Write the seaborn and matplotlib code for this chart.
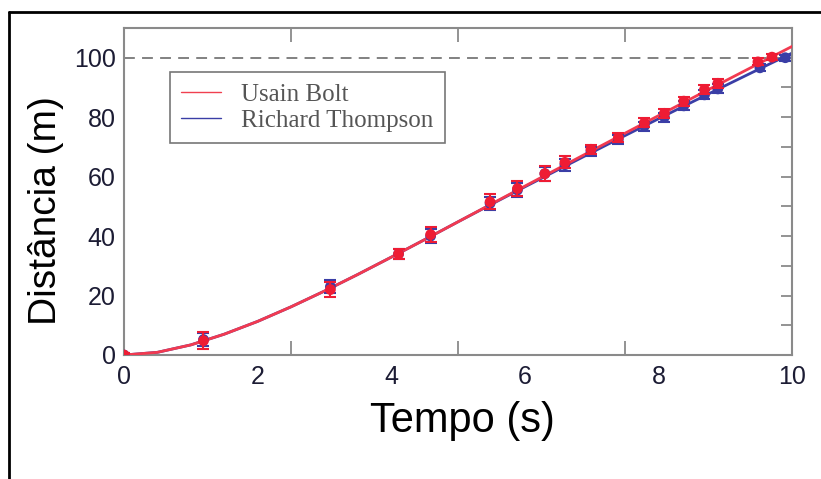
import numpy as np
import matplotlib
matplotlib.use('Agg')
import matplotlib.pyplot as plt
import seaborn as sns
from matplotlib.lines import Line2D

# tempos e distâncias medidos (pontos com barras de erro)
t_bolt = [0, 1.19, 3.09, 4.11, 4.59, 5.48, 5.89, 6.30, 6.60, 6.99, 7.40, 7.79, 8.09, 8.38, 8.69, 8.89, 9.49, 9.70]
d_bolt = [0, 4.8, 22.0, 34.0, 40.5, 51.5, 56.0, 61.0, 64.8, 69.2, 73.1, 78.1, 81.3, 85.4, 89.3, 91.4, 98.6, 100.2]
e_bolt = [0.8, 2.8, 2.5, 1.8, 2.5, 2.5, 2.5, 2.5, 2.0, 1.5, 1.5, 1.5, 1.5, 1.5, 1.5, 1.5, 1.2, 1.0]

t_thomp = [0, 1.19, 3.09, 4.11, 4.59, 5.48, 5.89, 6.30, 6.60, 6.99, 7.40, 7.79, 8.09, 8.38, 8.69, 8.89, 9.52, 9.90]
d_thomp = [0, 5.2, 23.0, 34.0, 40.0, 51.0, 55.5, 61.0, 64.0, 68.5, 72.5, 77.0, 80.0, 83.8, 87.5, 89.5, 96.6, 100.0]
e_thomp = [0.8, 2.3, 2.3, 1.8, 2.3, 2.3, 2.3, 2.3, 2.0, 1.5, 1.5, 1.5, 1.5, 1.5, 1.5, 1.5, 1.2, 1.0]

# curvas ajustadas
t_fit = [0, 0.5, 1, 1.5, 2, 2.5, 3, 3.5, 4, 4.5, 5, 5.5, 6, 6.5, 7, 7.5, 8, 8.5, 9, 9.5, 10]
fit_bolt = [0, 0.9, 3.4, 7.0, 11.3, 16.2, 21.5, 27.1, 32.9, 38.8, 44.8, 50.8, 56.8, 62.75, 68.7,
            74.6, 80.5, 86.35, 92.2, 98.0, 103.8]
fit_thomp = [0, 0.9, 3.4, 7.0, 11.3, 16.2, 21.5, 27.1, 32.9, 38.8, 44.8, 50.7, 56.55, 62.35, 68.1,
             73.8, 79.45, 85.05, 90.6, 96.1, 101.55]

red = '#ee1c34'
blue = '#3a3ea6'
gray = '#8a8a8a'
txt = '#1c1c34'

sns.set_style('white')
plt.rcParams['font.family'] = ['Liberation Sans', 'DejaVu Sans']

fig = plt.figure(figsize=(8.21, 4.79), dpi=100)
ax = fig.add_axes([124/821, 1-355/479, (792-124)/821, (355-28)/479])

ax.axhline(100, color='#777777', lw=1.3, ls=(0, (6, 4)), zorder=1)

sns.lineplot(x=t_fit, y=fit_thomp, color=blue, lw=2, ax=ax, zorder=2)
sns.lineplot(x=t_fit, y=fit_bolt, color='#f23a50', lw=2, ax=ax, zorder=3)

ax.errorbar(t_thomp, d_thomp, yerr=e_thomp, fmt='none', ecolor=blue, elinewidth=1.5, capsize=4, capthick=1.5, zorder=4)
sns.scatterplot(x=t_thomp, y=d_thomp, color=blue, s=60, edgecolor='none', ax=ax, zorder=5)
ax.errorbar(t_bolt, d_bolt, yerr=e_bolt, fmt='none', ecolor=red, elinewidth=1.5, capsize=4, capthick=1.5, zorder=6)
sns.scatterplot(x=t_bolt, y=d_bolt, color=red, s=60, edgecolor='none', ax=ax, zorder=7)

ax.set_xlim(0, 10)
ax.set_ylim(0, 110)

for s in ax.spines.values():
    s.set_color(gray)
    s.set_linewidth(1.5)

ax.set_xticks([0, 2, 4, 6, 8, 10])
ax.set_xticks([1, 3, 5, 7, 9], minor=True)
ax.set_yticks([0, 20, 40, 60, 80, 100])
ax.set_yticks([10, 30, 50, 70, 90], minor=True)
ax.tick_params(axis='x', which='both', direction='in', color=gray, width=1.3, length=4,
               labelsize=18, labelcolor=txt, pad=7, top=False)
ax.tick_params(axis='y', which='major', direction='in', color=gray, width=1.3, length=8,
               labelsize=18, labelcolor=txt, pad=6, right=False)
ax.tick_params(axis='y', which='minor', direction='in', color=gray, width=1.3, length=5, right=False)

# marcas longas em 2.5, 5, 7.5 (em cima e em baixo) e marcas do lado direito
for side in ['bottom', 'top']:
    sec = ax.secondary_xaxis(side)
    sec.set_xticks([2.5, 5, 7.5])
    sec.tick_params(direction='in', length=10, width=1.3, color=gray, labelbottom=False, labeltop=False)
    for s in sec.spines.values():
        s.set_visible(False)
secy = ax.secondary_yaxis('right')
secy.set_yticks(np.arange(0, 111, 10))
secy.tick_params(direction='in', length=8, width=1.3, color=gray, labelright=False)
for s in secy.spines.values():
    s.set_visible(False)

ax.set_xlabel('Tempo (s)', fontsize=30, color='black')
ax.set_ylabel('Distância (m)', fontsize=28, color='black')
ax.xaxis.set_label_coords(0.506, -0.14)
ax.yaxis.set_label_coords(-0.09, 0.442)

leg = ax.legend([Line2D([], [], color='#f04050', lw=1), Line2D([], [], color=blue, lw=1)],
                ['Usain Bolt', 'Richard Thompson'],
                loc='upper left', bbox_to_anchor=(170/821, 1-72/479), bbox_transform=fig.transFigure,
                prop={'family': 'Liberation Serif', 'size': 18}, labelcolor='#555555',
                frameon=True, fancybox=False, edgecolor='#777777', framealpha=1, borderaxespad=0,
                handlelength=1.6, handletextpad=0.8, labelspacing=0.15, borderpad=0.45)
leg.get_frame().set_linewidth(1.2)

# moldura externa
fig.add_artist(Line2D([9/821, 9/821], [0, 1-12/479], color='black', lw=2, transform=fig.transFigure))
fig.add_artist(Line2D([9/821, 1], [1-12/479, 1-12/479], color='black', lw=2, transform=fig.transFigure))

fig.savefig('out.png', dpi=100)
